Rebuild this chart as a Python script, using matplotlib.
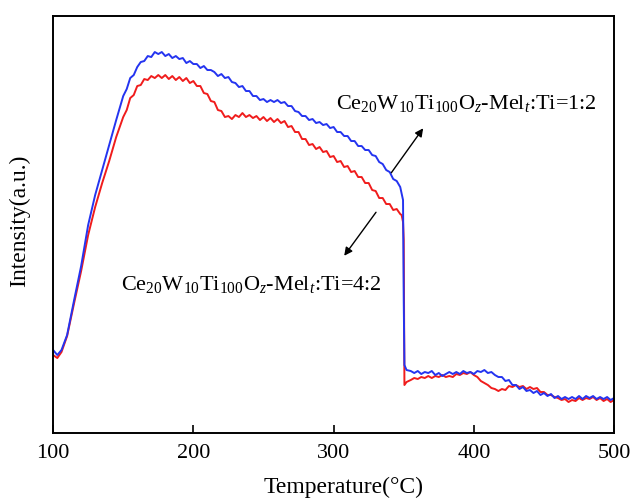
import matplotlib
matplotlib.use("Agg")
import matplotlib.pyplot as plt
import numpy as np

plt.rcParams["font.family"] = ["Liberation Serif", "DejaVu Serif"]
plt.rcParams["mathtext.fontset"] = "custom"
plt.rcParams["mathtext.rm"] = "Liberation Serif"
plt.rcParams["mathtext.it"] = "Liberation Serif:italic"

# Temperaturraster (°C): Anstieg, Hauptbereich, Sprung bei 350 °C, Restbereich
t_anstieg = [100, 103, 106, 110, 115, 120, 125, 130, 135, 140, 145]
t_mitte = list(np.arange(150, 348, 2.5))
t_rest = [350.5, 352, 355, 357.5, 360, 362.5, 365, 367.5, 370, 372.5, 375, 377.5, 380,
          382.5, 385, 387.5, 390, 392.5, 395, 397.5, 400, 402.5, 405, 407.5, 410, 412.5,
          415, 417.5, 420, 422.5, 425, 427.5, 430, 432.5, 435, 437.5, 440, 442.5, 445,
          447.5, 450, 452.5, 455, 457.5, 460, 462.5, 465, 467.5, 470, 472.5, 475, 477.5,
          480, 482.5, 485, 487.5, 490, 492.5, 495, 497.5, 500]

# Mel:Ti = 1:2 (blau)
blau_anstieg = [83, 78, 83, 98, 133, 167, 208, 238, 263, 288, 313]
blau_mitte = [337, 344, 355, 358, 366, 371, 372, 377, 376, 381, 379, 381, 377, 379, 375, 377,
              374, 375, 370, 372, 369, 369, 365, 367, 363, 363, 361, 357, 359, 355, 356, 351,
              350, 346, 347, 342, 342, 337, 337, 333, 334, 331, 333, 331, 333, 330, 331, 327,
              327, 322, 321, 317, 317, 313, 314, 310, 311, 308, 309, 305, 306, 301, 301, 297,
              297, 292, 292, 287, 287, 283, 283, 278, 277, 271, 269, 263, 261, 254, 252, 246]
blau_sprung_t = [349.5, 350]
blau_sprung = [233, 133]
blau_rest = [68, 63, 62, 60, 62, 59, 61, 60, 62, 58, 60, 57, 59, 61, 59, 61, 59, 62, 60, 61,
             59, 62, 61, 63, 60, 61, 58, 56, 56, 52, 53, 48, 48, 44, 46, 42, 43, 40, 42, 38,
             40, 37, 39, 35, 37, 34, 36, 34, 36, 34, 37, 34, 37, 35, 37, 34, 36, 34, 36, 33, 35]

# Mel:Ti = 4:2 (rot)
rot_anstieg = [78, 75, 81, 97, 130, 162, 198, 226, 250, 272, 296]
rot_mitte = [316, 323, 335, 338, 347, 348, 354, 353, 357, 355, 358, 355, 358, 354, 357, 353,
             356, 352, 355, 350, 352, 347, 347, 340, 339, 332, 331, 323, 322, 316, 317, 314,
             318, 316, 320, 316, 318, 315, 317, 313, 316, 312, 315, 311, 314, 310, 312, 306,
             307, 301, 301, 294, 294, 288, 289, 284, 286, 281, 282, 276, 277, 271, 272, 266,
             267, 261, 262, 256, 256, 250, 250, 243, 242, 235, 235, 229, 229, 223, 224, 219]
rot_sprung_t = [348.5, 349.5, 350, 350.3]
rot_sprung = [218, 211, 193, 113]
rot_rest = [48, 51, 53, 55, 54, 56, 55, 57, 55, 57, 56, 58, 56, 57, 56, 59, 58, 60, 59, 61,
            58, 56, 52, 50, 48, 45, 44, 42, 44, 43, 47, 46, 48, 46, 47, 44, 46, 44, 45, 41,
            41, 38, 38, 36, 35, 33, 34, 31, 33, 32, 35, 33, 35, 34, 36, 33, 35, 32, 34, 31, 33]

temp_blau = t_anstieg + t_mitte + blau_sprung_t + t_rest
int_blau = blau_anstieg + blau_mitte + blau_sprung + blau_rest
temp_rot = t_anstieg + t_mitte + rot_sprung_t + t_rest
int_rot = rot_anstieg + rot_mitte + rot_sprung + rot_rest

label_oben = r"Ce$_{20}$W$_{10}$Ti$_{100}$O$_{z}$-Mel$_{t}$:Ti=1:2"
label_unten = r"Ce$_{20}$W$_{10}$Ti$_{100}$O$_{z}$-Mel$_{t}$:Ti=4:2"

fig = plt.figure(figsize=(6.32, 4.98), dpi=100)
ax = fig.add_axes([0.084, 0.1305, 0.8877, 0.8373])

ax.plot(temp_rot, int_rot, color="#f01c1c", lw=1.4)
ax.plot(temp_blau, int_blau, color="#2434f0", lw=1.4)

ax.set_xlim(100, 500)
ax.set_ylim(0, 417)
ax.set_xticks([100, 200, 300, 400, 500])
ax.set_yticks([])
ax.tick_params(axis="x", direction="in", length=6, width=1.2, labelsize=16, pad=8)
for s in ax.spines.values():
    s.set_linewidth(1.4)

ax.set_xlabel("Temperature(°C)", fontsize=17)
ax.set_ylabel("Intensity(a.u.)", fontsize=17)
ax.xaxis.set_label_coords(0.518, -0.106)
ax.yaxis.set_label_coords(-0.041, 0.51)

ax.text(302, 324, label_oben, fontsize=16, va="baseline", ha="left")
ax.text(148.6, 143, label_unten, fontsize=16, va="baseline", ha="left")

ax.annotate("", xy=(365, 307), xytext=(340, 258),
            arrowprops=dict(arrowstyle="-|>", color="black", lw=1.0, mutation_scale=12))
ax.annotate("", xy=(306.4, 175), xytext=(331.4, 223),
            arrowprops=dict(arrowstyle="-|>", color="black", lw=1.0, mutation_scale=12))

fig.savefig("out.png", dpi=100)
